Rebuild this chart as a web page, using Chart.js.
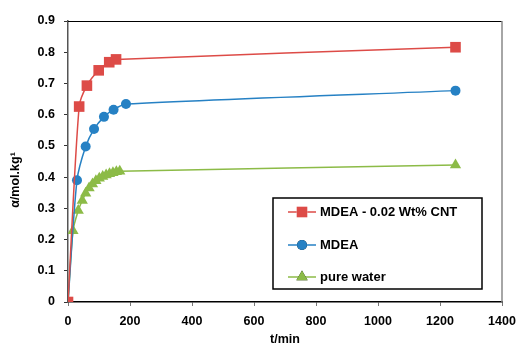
<!DOCTYPE html>
<html lang="en">
<head>
    <meta charset="UTF-8">
    <title>Absorption vs time</title>
    <style>
        body { margin: 0; background: #fff; }
        #chart { display: block; }
    </style>
    <script src="https://cdn.jsdelivr.net/npm/chart.js"></script>
</head>
<body>
    <canvas id="chart" width="520" height="346"></canvas>
    <script>
        // t/min and loading values
        const cntTime = [0, 36, 61, 99, 133, 155, 1250];
        const cntLoad = [0, 0.626, 0.693, 0.742, 0.768, 0.777, 0.816];

        const mdeaTime = [0, 29, 57, 84, 116, 147, 187, 1250];
        const mdeaLoad = [0, 0.39, 0.498, 0.554, 0.593, 0.616, 0.634, 0.677];

        const waterTime = [0, 16, 33, 46, 57, 68, 79, 90, 101, 112, 123, 134, 145, 156, 167, 1250];
        const waterLoad = [0, 0.228, 0.293, 0.325, 0.348, 0.365, 0.378, 0.388, 0.396, 0.402, 0.407, 0.411, 0.414, 0.417, 0.419, 0.439];

        const seriesNames = ['MDEA - 0.02 Wt% CNT', 'MDEA', 'pure water'];
        const xTitle = 't/min';
        const yTitle = 'α/mol.kg¹';

        const FONT = '"Liberation Sans", Arial, sans-serif';

        function toPoints(ts, vs) {
            return ts.map((t, i) => ({ x: t, y: vs[i] }));
        }

        function series(label, ts, vs, color, style, radius) {
            return {
                label: label,
                data: toPoints(ts, vs),
                showLine: true,
                borderColor: color,
                backgroundColor: color,
                borderWidth: 1.5,
                pointStyle: style,
                pointRadius: radius,
                pointBorderWidth: 0,
                tension: 0.25
            };
        }

        // plot box, axis titles and the boxed legend
        const extras = {
            id: 'extras',
            afterDraw(chart) {
                const ctx = chart.ctx;
                const a = chart.chartArea;
                ctx.save();
                ctx.lineWidth = 1;
                ctx.strokeStyle = '#000';
                ctx.beginPath();
                ctx.moveTo(a.left, a.top + 0.5);
                ctx.lineTo(a.right, a.top + 0.5);
                ctx.stroke();
                ctx.strokeStyle = '#888';
                ctx.lineWidth = 1.5;
                ctx.beginPath();
                ctx.moveTo(a.right, a.top);
                ctx.lineTo(a.right, a.bottom);
                ctx.stroke();

                ctx.fillStyle = '#000';
                ctx.font = 'bold 12.5px ' + FONT;
                ctx.textAlign = 'center';
                ctx.textBaseline = 'middle';
                ctx.fillText(xTitle, (a.left + a.right) / 2, 340);
                ctx.save();
                ctx.translate(16, 180);
                ctx.rotate(-Math.PI / 2);
                ctx.fillText(yTitle, 0, 0);
                ctx.restore();

                // legend box
                const bx = 273, by = 198, bw = 209, bh = 91;
                ctx.fillStyle = '#fff';
                ctx.fillRect(bx, by, bw, bh);
                ctx.strokeStyle = '#000';
                ctx.lineWidth = 1.5;
                ctx.strokeRect(bx, by, bw, bh);
                const rows = [212, 245, 277];
                chart.data.datasets.forEach((ds, i) => {
                    const y = rows[i];
                    ctx.strokeStyle = ds.borderColor;
                    ctx.lineWidth = 1.5;
                    ctx.beginPath();
                    ctx.moveTo(288, y);
                    ctx.lineTo(316, y);
                    ctx.stroke();
                    Chart.helpers.drawPoint(ctx, {
                        pointStyle: ds.pointStyle,
                        radius: ds.pointRadius,
                        borderWidth: 0
                    }, 302, y);
                    ctx.fillStyle = ds.backgroundColor;
                    ctx.fill();
                    ctx.fillStyle = '#000';
                    ctx.font = 'bold 13px ' + FONT;
                    ctx.textAlign = 'left';
                    ctx.fillText(seriesNames[i], 320, y);
                });
                ctx.restore();
            }
        };

        new Chart(document.getElementById('chart'), {
            type: 'scatter',
            data: {
                datasets: [
                    series(seriesNames[0], cntTime, cntLoad, '#DD4B47', 'rect', 7.5),
                    series(seriesNames[1], mdeaTime, mdeaLoad, '#2681C4', 'circle', 5),
                    series(seriesNames[2], waterTime, waterLoad, '#8CBB47', 'triangle', 6.5)
                ]
            },
            options: {
                responsive: false,
                animation: false,
                layout: { padding: { top: 21, right: 18, left: 0, bottom: 0 } },
                plugins: {
                    legend: { display: false },
                    tooltip: { enabled: false }
                },
                scales: {
                    x: {
                        type: 'linear',
                        min: 0,
                        max: 1400,
                        afterFit(s) {
                            s.height = 44;
                            s.paddingLeft = 0;
                            s.paddingRight = 0;
                        },
                        ticks: {
                            stepSize: 200,
                            color: '#000',
                            padding: 8,
                            maxRotation: 0,
                            callback: (v) => String(v),
                            font: { family: FONT, size: 12.5, weight: 'bold' }
                        },
                        grid: {
                            drawOnChartArea: false,
                            drawTicks: true,
                            tickLength: 4,
                            color: '#777'
                        },
                        border: { color: '#000', width: 1.5 }
                    },
                    y: {
                        min: 0,
                        max: 0.9,
                        afterFit(s) {
                            s.width = 68;
                            s.paddingTop = 0;
                            s.paddingBottom = 0;
                        },
                        ticks: {
                            stepSize: 0.1,
                            color: '#000',
                            padding: 9,
                            callback: (v) => String(Math.round(v * 10) / 10),
                            font: { family: FONT, size: 12.5, weight: 'bold' }
                        },
                        grid: {
                            drawOnChartArea: false,
                            drawTicks: true,
                            tickLength: 4,
                            color: '#333'
                        },
                        border: { color: '#555', width: 1.5 }
                    }
                }
            },
            plugins: [extras]
        });
    </script>
</body>
</html>
